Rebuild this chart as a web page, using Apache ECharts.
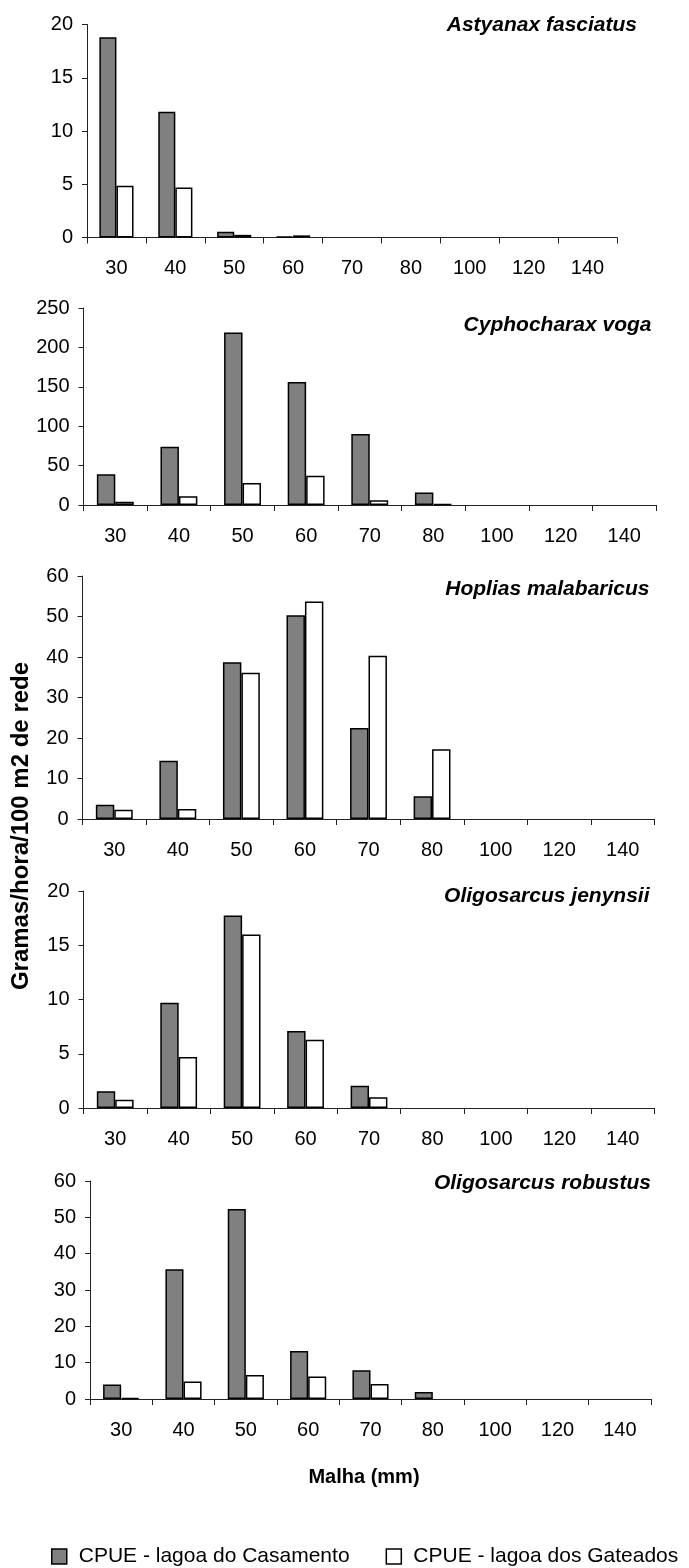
<!DOCTYPE html>
<html>
<head>
<meta charset="utf-8">
<script src="https://cdn.jsdelivr.net/npm/echarts@6/dist/echarts.min.js"></script>
<style>
html,body{margin:0;padding:0;background:#fff;}
#chart{width:689px;height:1568px;}
</style>
</head>
<body>
<div id="chart"></div>
<script>
const categories = ['30', '40', '50', '60', '70', '80', '100', '120', '140'];
const seriesNames = ['CPUE - lagoa do Casamento', 'CPUE - lagoa dos Gateados'];
const species = ['Astyanax fasciatus', 'Cyphocharax voga', 'Hoplias malabaricus', 'Oligosarcus jenynsii', 'Oligosarcus robustus'];

// null = no catch in that mesh size (no bar drawn)
const astyanaxCasamento = [18.8, 11.8, 0.55, 0.1, null, null, null, null, null];
const astyanaxGateados  = [4.85, 4.7, 0.25, 0.2, null, null, null, null, null];
const cyphocharaxCasamento = [39, 74, 219, 156, 90, 16, null, null, null];
const cyphocharaxGateados  = [4, 11, 28, 37, 6, 1, null, null, null];
const hopliasCasamento = [3.5, 14.4, 38.7, 50.3, 22.5, 5.6, null, null, null];
const hopliasGateados  = [2.3, 2.5, 36.1, 53.7, 40.3, 17.2, null, null, null];
const jenynsiiCasamento = [1.55, 9.7, 17.75, 7.1, 2.05, null, null, null, null];
const jenynsiiGateados  = [0.75, 4.7, 16.0, 6.3, 1.0, null, null, null, null];
const robustusCasamento = [4.0, 35.7, 52.3, 13.2, 7.9, 1.9, null, null, null];
const robustusGateados  = [0.3, 4.8, 6.6, 6.2, 4.1, null, null, null, null];

const yMax = [20, 250, 60, 20, 60];
const yInterval = [5, 50, 10, 5, 10];

const casamentoData = [astyanaxCasamento, cyphocharaxCasamento, hopliasCasamento, jenynsiiCasamento, robustusCasamento];
const gateadosData = [astyanaxGateados, cyphocharaxGateados, hopliasGateados, jenynsiiGateados, robustusGateados];

// layout (pixels)
const grids = [
  {left: 87, top: 24.5, width: 530, height: 213},
  {left: 83.5, top: 308, width: 572.5, height: 197},
  {left: 82.5, top: 576, width: 572, height: 243},
  {left: 83.5, top: 891, width: 571, height: 217},
  {left: 90, top: 1181, width: 561, height: 218}
];
const titlePos = [[637, 25], [651.5, 325], [649.5, 589.5], [649.5, 896], [651, 1183]];

const FONT = '"Liberation Sans", Arial, sans-serif';

const chart = echarts.init(document.getElementById('chart'), null, {renderer: 'canvas'});

const xAxes = [], yAxes = [], series = [], titles = [];
for (let i = 0; i < 5; i++) {
  xAxes.push({
    type: 'category', gridIndex: i, data: categories,
    axisLine: {show: true, lineStyle: {color: '#222', width: 1}},
    axisTick: {show: true, length: 6, lineStyle: {color: '#222'}},
    axisLabel: {interval: 0, margin: 21, fontSize: 20, color: '#000', fontFamily: FONT},
    splitLine: {show: false}
  });
  yAxes.push({
    type: 'value', gridIndex: i, min: 0, max: yMax[i], interval: yInterval[i],
    axisLine: {show: true, lineStyle: {color: '#222', width: 1}},
    axisTick: {show: true, length: 5, lineStyle: {color: '#222'}},
    axisLabel: {margin: 14, fontSize: 20, color: '#000', fontFamily: FONT},
    splitLine: {show: false}
  });
  series.push({
    name: seriesNames[0], type: 'bar', xAxisIndex: i, yAxisIndex: i,
    data: casamentoData[i], barGap: '0%', barCategoryGap: '42%',
    itemStyle: {color: '#808080', borderColor: '#000', borderWidth: 1.5},
    animation: false
  });
  series.push({
    name: seriesNames[1], type: 'bar', xAxisIndex: i, yAxisIndex: i,
    data: gateadosData[i], barGap: '0%', barCategoryGap: '42%',
    itemStyle: {color: '#ffffff', borderColor: '#000', borderWidth: 1.5},
    animation: false
  });
  titles.push({
    text: species[i], left: titlePos[i][0], top: titlePos[i][1], padding: 0,
    textAlign: 'right', textVerticalAlign: 'middle',
    textStyle: {fontSize: 21, fontWeight: 'bold', fontStyle: 'italic', color: '#000', fontFamily: FONT}
  });
}
titles.push({
  text: 'Malha (mm)', left: 364, top: 1477, padding: 0,
  textAlign: 'center', textVerticalAlign: 'middle',
  textStyle: {fontSize: 20, fontWeight: 'bold', color: '#000', fontFamily: FONT}
});

const option = {
  backgroundColor: '#fff',
  animation: false,
  title: titles,
  grid: grids,
  xAxis: xAxes,
  yAxis: yAxes,
  series: series,
  legend: {
    data: seriesNames,
    left: 46, top: 1541,
    icon: 'rect', itemWidth: 15, itemHeight: 15, itemGap: 36,
    itemStyle: {borderColor: '#000', borderWidth: 1.5},
    textStyle: {fontSize: 21, color: '#000', fontFamily: FONT, padding: [0, 0, 0, 7]},
    selectedMode: false
  },
  graphic: [{
    type: 'text', x: 21, y: 826, rotation: Math.PI / 2,
    style: {
      text: 'Gramas/hora/100 m2 de rede',
      font: 'bold 24px ' + FONT,
      fill: '#000',
      align: 'center', verticalAlign: 'middle',
      textAlign: 'center', textVerticalAlign: 'middle'
    }
  }]
};
chart.setOption(option);
</script>
</body>
</html>
